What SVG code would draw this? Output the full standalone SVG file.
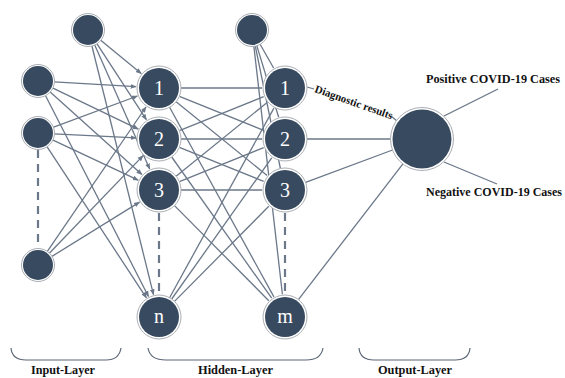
<svg xmlns="http://www.w3.org/2000/svg" width="565" height="378" viewBox="0 0 565 378">
<defs>
<style>
.ring{fill:#ffffff;stroke:#a9aeb4;stroke-width:1}
.core{fill:#384a5f}
.num{fill:#ffffff;font-family:"Liberation Serif",serif;font-size:20px;text-anchor:middle}
.ln{stroke:#6b7889;stroke-width:1.3;fill:none}
.dash{stroke:#6b7889;stroke-width:2.2;stroke-dasharray:8,6;fill:none}
.lbl{font-family:"Liberation Serif","Times New Roman",serif;font-weight:bold;font-size:11.5px;fill:#111}
.sm{font-size:12.5px}
.dg{font-size:11px}
.brace{stroke:#5d6777;stroke-width:1.2;fill:none}
</style>
<marker id="arr" viewBox="0 0 10 10" refX="9" refY="5" markerWidth="6" markerHeight="6" markerUnits="userSpaceOnUse" orient="auto">
<path d="M0,1 L10,5 L0,9 z" fill="#6b7889"/>
</marker>
</defs>
<rect width="565" height="378" fill="#ffffff"/>

<g id="connectors">
<line class="dash" x1="38" y1="150" x2="38" y2="248"/>
<line class="dash" x1="159" y1="213" x2="159" y2="295"/>
<line class="dash" x1="285" y1="213" x2="285" y2="295"/>
<line class="ln" marker-end="url(#arr)" x1="100.4" y1="40.1" x2="141.2" y2="73.5"/>
<line class="ln" marker-end="url(#arr)" x1="96.7" y1="43.4" x2="146.4" y2="119.7"/>
<line class="ln" marker-end="url(#arr)" x1="94.5" y1="44.6" x2="149.7" y2="169"/>
<line class="ln" marker-end="url(#arr)" x1="91.8" y1="45.5" x2="153.5" y2="294.7"/>
<line class="ln" marker-end="url(#arr)" x1="54" y1="81.9" x2="136" y2="86.7"/>
<line class="ln" marker-end="url(#arr)" x1="52.4" y1="87.9" x2="138.3" y2="129.1"/>
<line class="ln" marker-end="url(#arr)" x1="49.9" y1="91.7" x2="141.9" y2="174.6"/>
<line class="ln" marker-end="url(#arr)" x1="45.3" y1="95.2" x2="148.5" y2="296.5"/>
<line class="ln" marker-end="url(#arr)" x1="53" y1="127.4" x2="137.4" y2="96"/>
<line class="ln" marker-end="url(#arr)" x1="54" y1="133.8" x2="136" y2="137.9"/>
<line class="ln" marker-end="url(#arr)" x1="52.5" y1="139.8" x2="138.2" y2="180.2"/>
<line class="ln" marker-end="url(#arr)" x1="46.8" y1="146.4" x2="146.4" y2="297.8"/>
<line class="ln" marker-end="url(#arr)" x1="47" y1="251.8" x2="146" y2="107"/>
<line class="ln" marker-end="url(#arr)" x1="49.1" y1="253.5" x2="143.1" y2="155.6"/>
<line class="ln" marker-end="url(#arr)" x1="51.6" y1="256.6" x2="139.5" y2="202.1"/>
<line class="ln" x1="181" y1="88" x2="262" y2="88"/>
<line class="ln" x1="179.4" y1="96.3" x2="263.7" y2="130.4"/>
<line class="ln" x1="176.1" y1="101.8" x2="267.1" y2="175.5"/>
<line class="ln" x1="169.6" y1="107.3" x2="273.9" y2="296.9"/>
<line class="ln" x1="179.4" y1="130.7" x2="263.7" y2="96.6"/>
<line class="ln" x1="181" y1="139" x2="262" y2="139"/>
<line class="ln" x1="179.4" y1="147.3" x2="263.7" y2="181.4"/>
<line class="ln" x1="171.7" y1="157" x2="271.7" y2="298.2"/>
<line class="ln" x1="176.1" y1="176.2" x2="267.1" y2="102.5"/>
<line class="ln" x1="179.4" y1="181.7" x2="263.7" y2="147.6"/>
<line class="ln" x1="181" y1="190" x2="262" y2="190"/>
<line class="ln" x1="174.5" y1="205.6" x2="268.8" y2="300.7"/>
<line class="ln" x1="169.6" y1="297.7" x2="273.9" y2="108.1"/>
<line class="ln" x1="171.7" y1="299" x2="271.7" y2="157.8"/>
<line class="ln" x1="174.5" y1="301.4" x2="268.8" y2="206.3"/>
<line class="ln" x1="259.4" y1="43" x2="273.6" y2="68"/>
<line class="ln" x1="256.4" y1="44.4" x2="278.6" y2="117"/>
<line class="ln" x1="255" y1="44.7" x2="280.4" y2="168.5"/>
<line class="ln" x1="253.7" y1="44.9" x2="282.4" y2="294.2"/>
<line class="ln" x1="307" y1="87" x2="314" y2="89"/>
<line class="ln" x1="391" y1="116" x2="397" y2="121"/>
<line class="ln" x1="307" y1="139" x2="392" y2="139"/>
<line class="ln" x1="305.6" y1="182.3" x2="393.9" y2="149.5"/>
<line class="ln" x1="298.4" y1="299.6" x2="403.7" y2="162.8"/>
<line class="ln" x1="444" y1="116" x2="498" y2="89"/>
<line class="ln" x1="444" y1="162" x2="497" y2="184"/>
</g>

<g id="in-bias"><circle class="ring" cx="88" cy="30" r="16.5"/><circle class="core" cx="88" cy="30" r="15"/></g>
<g id="in-1"><circle class="ring" cx="38" cy="81" r="16.5"/><circle class="core" cx="38" cy="81" r="15"/></g>
<g id="in-2"><circle class="ring" cx="38" cy="133" r="16.5"/><circle class="core" cx="38" cy="133" r="15"/></g>
<g id="in-last"><circle class="ring" cx="38" cy="265" r="16.5"/><circle class="core" cx="38" cy="265" r="15"/></g>

<g id="h1-1"><circle class="ring" cx="159" cy="88" r="22"/><circle class="core" cx="159" cy="88" r="20"/><text class="num" x="159" y="95">1</text></g>
<g id="h1-2"><circle class="ring" cx="159" cy="139" r="22"/><circle class="core" cx="159" cy="139" r="20"/><text class="num" x="159" y="146">2</text></g>
<g id="h1-3"><circle class="ring" cx="159" cy="190" r="22"/><circle class="core" cx="159" cy="190" r="20"/><text class="num" x="159" y="197">3</text></g>
<g id="h1-n"><circle class="ring" cx="159" cy="317" r="22"/><circle class="core" cx="159" cy="317" r="20"/><text class="num" x="159" y="323">n</text></g>

<g id="h2-bias"><circle class="ring" cx="252" cy="30" r="16.5"/><circle class="core" cx="252" cy="30" r="15"/></g>
<g id="h2-1"><circle class="ring" cx="285" cy="88" r="22"/><circle class="core" cx="285" cy="88" r="20"/><text class="num" x="285" y="95">1</text></g>
<g id="h2-2"><circle class="ring" cx="285" cy="139" r="22"/><circle class="core" cx="285" cy="139" r="20"/><text class="num" x="285" y="146">2</text></g>
<g id="h2-3"><circle class="ring" cx="285" cy="190" r="22"/><circle class="core" cx="285" cy="190" r="20"/><text class="num" x="285" y="197">3</text></g>
<g id="h2-m"><circle class="ring" cx="285" cy="317" r="22"/><circle class="core" cx="285" cy="317" r="20"/><text class="num" x="285" y="323">m</text></g>

<g id="output"><circle class="ring" cx="422" cy="139" r="31.5"/><circle class="core" cx="422" cy="139" r="29.5"/></g>

<g id="labels">
<text class="lbl dg" transform="translate(314,92) rotate(19.5)" textLength="82" lengthAdjust="spacingAndGlyphs">Diagnostic results</text>
<text class="lbl" x="426" y="83" textLength="134" lengthAdjust="spacingAndGlyphs">Positive COVID-19 Cases</text>
<text class="lbl" x="426" y="196" textLength="136" lengthAdjust="spacingAndGlyphs">Negative COVID-19 Cases</text>
<text class="lbl sm" x="31" y="374" textLength="64" lengthAdjust="spacingAndGlyphs">Input-Layer</text>
<text class="lbl sm" x="198" y="374" textLength="75" lengthAdjust="spacingAndGlyphs">Hidden-Layer</text>
<text class="lbl sm" x="378" y="374" textLength="74" lengthAdjust="spacingAndGlyphs">Output-Layer</text>
</g>

<g id="braces">
<path class="brace" d="M11,348 Q12,360 26,360 L106,360 Q119,360 121,348"/>
<path class="brace" d="M148,348 Q150,360 166,360 L306,360 Q321,360 323,348"/>
<path class="brace" d="M359,348 Q360,360 374,360 L455,360 Q469,360 470,348"/>
</g>
</svg>
